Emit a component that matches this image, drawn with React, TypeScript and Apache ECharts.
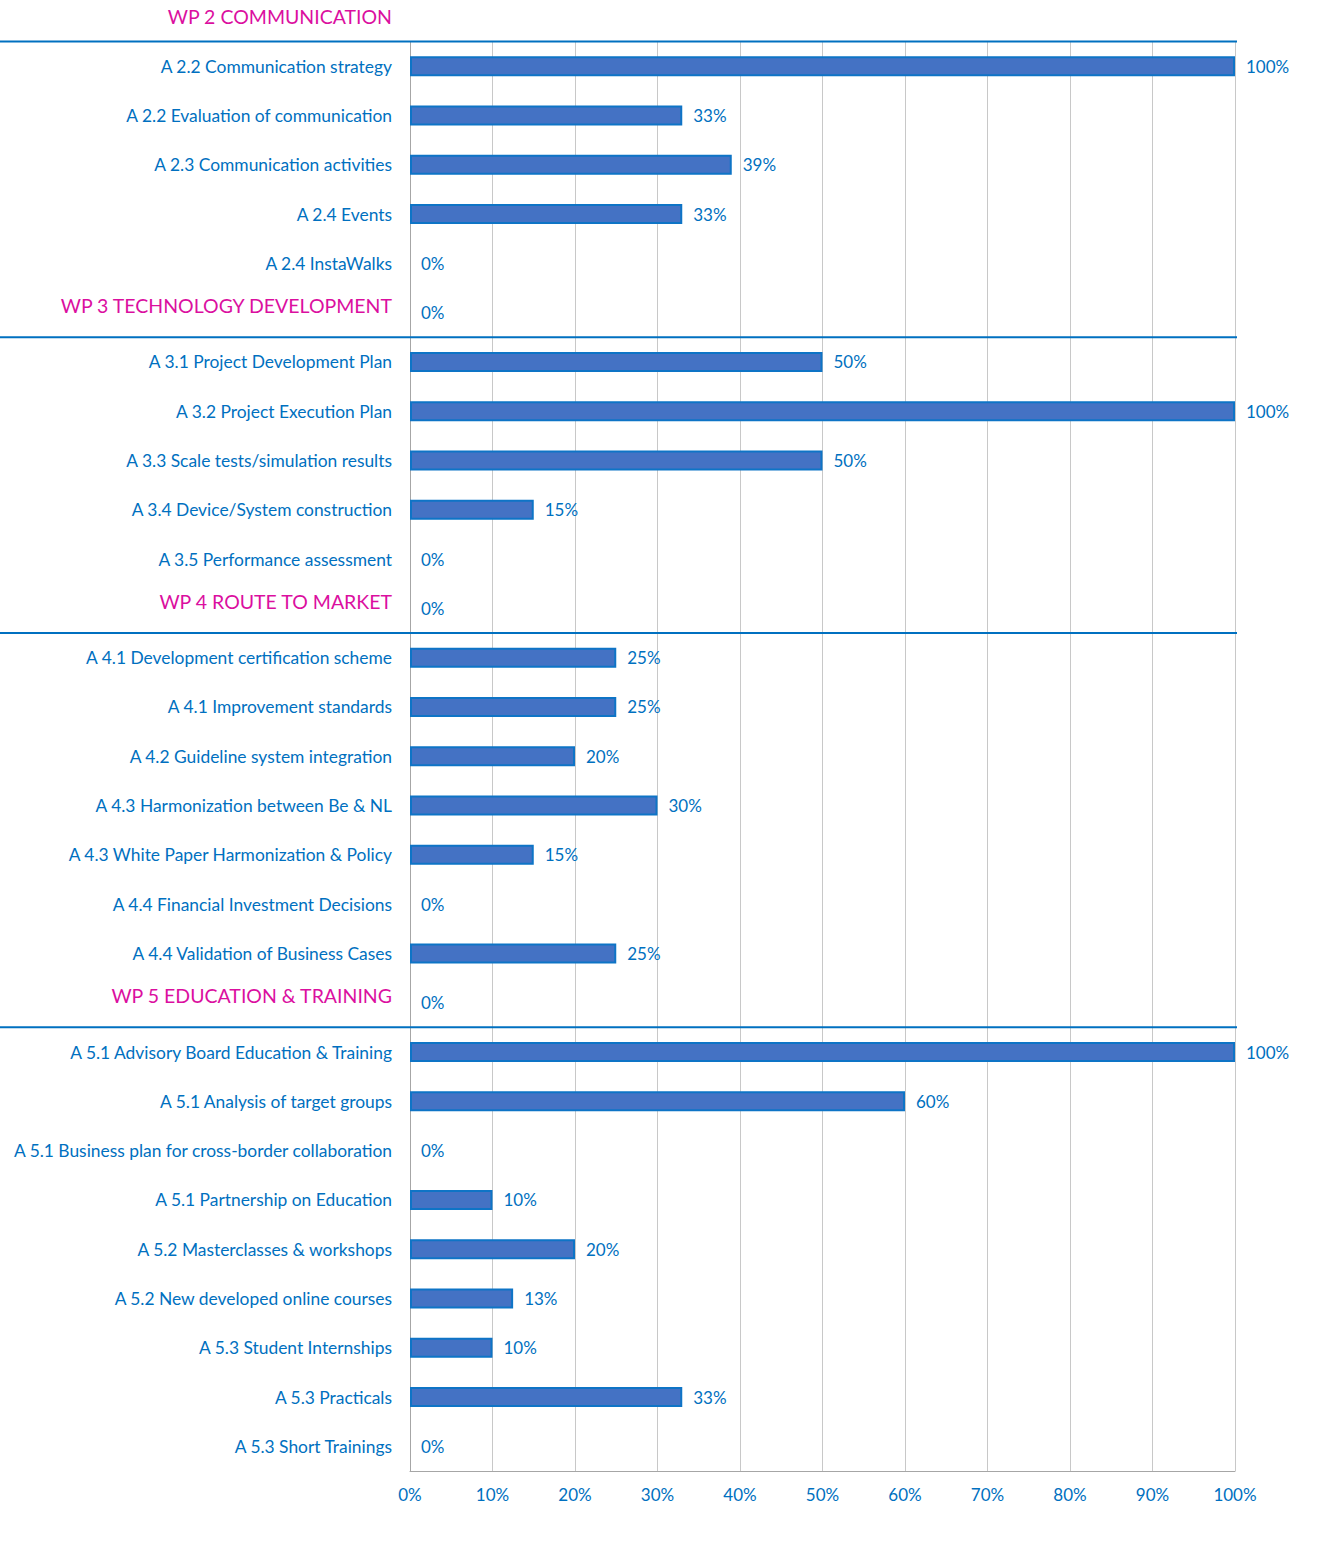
import React, { useEffect, useRef } from "react";
import * as echarts from "echarts";

const topHeader = "WP 2 COMMUNICATION";

const categories = [
  "A 2.2 Communication strategy",
  "A 2.2 Evaluation of communication",
  "A 2.3 Communication activities",
  "A 2.4 Events",
  "A 2.4 InstaWalks",
  "WP 3 TECHNOLOGY DEVELOPMENT",
  "A 3.1 Project Development Plan",
  "A 3.2 Project Execution Plan",
  "A 3.3 Scale tests/simulation results",
  "A 3.4 Device/System construction",
  "A 3.5 Performance assessment",
  "WP 4 ROUTE TO MARKET",
  "A 4.1 Development certification scheme",
  "A 4.1 Improvement standards",
  "A 4.2 Guideline system integration",
  "A 4.3 Harmonization between Be & NL",
  "A 4.3 White Paper Harmonization & Policy",
  "A 4.4 Financial Investment Decisions",
  "A 4.4 Validation of Business Cases",
  "WP 5 EDUCATION & TRAINING",
  "A 5.1 Advisory Board Education & Training",
  "A 5.1 Analysis of target groups",
  "A 5.1 Business plan for cross-border collaboration",
  "A 5.1 Partnership on Education",
  "A 5.2 Masterclasses & workshops",
  "A 5.2 New developed online courses",
  "A 5.3 Student Internships",
  "A 5.3 Practicals",
  "A 5.3 Short Trainings",
];

const progress = [
  100, 33, 39, 33, 0,
  0,
  50, 100, 50, 15, 0,
  0,
  25, 25, 20, 30, 15, 0, 25,
  0,
  100, 60, 0, 10, 20, 12.5, 10, 33, 0,
];

const xTicks = { min: 0, max: 100, interval: 10 };

const FONT = "Lato";
const BLUE_TEXT = "#0070C0";
const MAGENTA = "#DB0F9F";

const isHeader = (s: string) => s.startsWith("WP ");

export default function App() {
  const ref = useRef<HTMLDivElement>(null);
  useEffect(() => {
    if (!ref.current) return;
    const chart = echarts.init(ref.current, null, { renderer: "svg" });
    chart.setOption({
      animation: false,
      textStyle: { fontFamily: FONT },
      grid: { left: 410, right: 91, top: 41.5, bottom: 85, containLabel: false },
      xAxis: {
        type: "value",
        min: xTicks.min,
        max: xTicks.max,
        interval: xTicks.interval,
        axisLine: { show: true, lineStyle: { color: "#A6A6A6", width: 1 } },
        axisTick: { show: false },
        splitLine: { show: true, lineStyle: { color: "#C8C8C8", width: 1 } },
        axisLabel: {
          formatter: "{value}%",
          color: BLUE_TEXT,
          fontSize: 17,
          fontFamily: FONT,
          margin: 15,
        },
      },
      yAxis: {
        type: "category",
        inverse: true,
        data: categories,
        axisLine: { show: true, lineStyle: { color: "#A6A6A6", width: 1 } },
        axisTick: { show: false },
        splitLine: { show: false },
        axisLabel: {
          margin: 18,
          formatter: (v: string) => (isHeader(v) ? `{h|${v}}` : `{a|${v}}`),
          rich: {
            a: { color: BLUE_TEXT, fontSize: 17.4, fontFamily: FONT },
            h: { color: MAGENTA, fontSize: 19.5, fontFamily: FONT, padding: [0, 0, 14, 0] },
          },
        },
      },
      series: [
        {
          type: "bar",
          data: progress.map((v) => ({
            value: v,
            itemStyle: v === 0 ? { borderWidth: 0, opacity: 0 } : undefined,
          })),
          barWidth: 20,
          itemStyle: { color: "#4472C4", borderColor: "#0E74C6", borderWidth: 2 },
          label: {
            show: true,
            position: "right",
            distance: 11,
            color: BLUE_TEXT,
            fontSize: 17,
            fontFamily: FONT,
            opacity: 1,
            formatter: (p: any) => `${Math.round(p.value)}%`,
          },
        },
      ],
    });

    const y0 = chart.convertToPixel({ yAxisIndex: 0 }, 0) as number;
    const y1 = chart.convertToPixel({ yAxisIndex: 0 }, 1) as number;
    const band = y1 - y0;
    const right = chart.convertToPixel({ xAxisIndex: 0 }, xTicks.max) as number;
    const left = chart.convertToPixel({ xAxisIndex: 0 }, xTicks.min) as number;
    const lines: number[] = [];
    lines.push(y0 - band / 2);
    categories.forEach((c, i) => {
      if (isHeader(c)) {
        const yc = chart.convertToPixel({ yAxisIndex: 0 }, i) as number;
        lines.push(yc + band / 2);
      }
    });
    chart.setOption({
      graphic: [
        ...lines.map((y) => ({
          type: "line",
          shape: { x1: 0, y1: y, x2: right + 2, y2: y },
          style: { stroke: "#0070C0", lineWidth: 2 },
          z: 10,
        })),
        {
          type: "text",
          x: left - 18,
          y: y0 - band,
          style: {
            text: topHeader,
            fill: MAGENTA,
            fontSize: 19.5,
            fontFamily: FONT,
            align: "right",
            verticalAlign: "middle",
          },
        },
      ],
    });

    return () => chart.dispose();
  }, []);
  return (
    <div
      ref={ref}
      style={{ position: "absolute", left: 0, top: 0, width: 1326, height: 1556, background: "#fff" }}
    />
  );
}
